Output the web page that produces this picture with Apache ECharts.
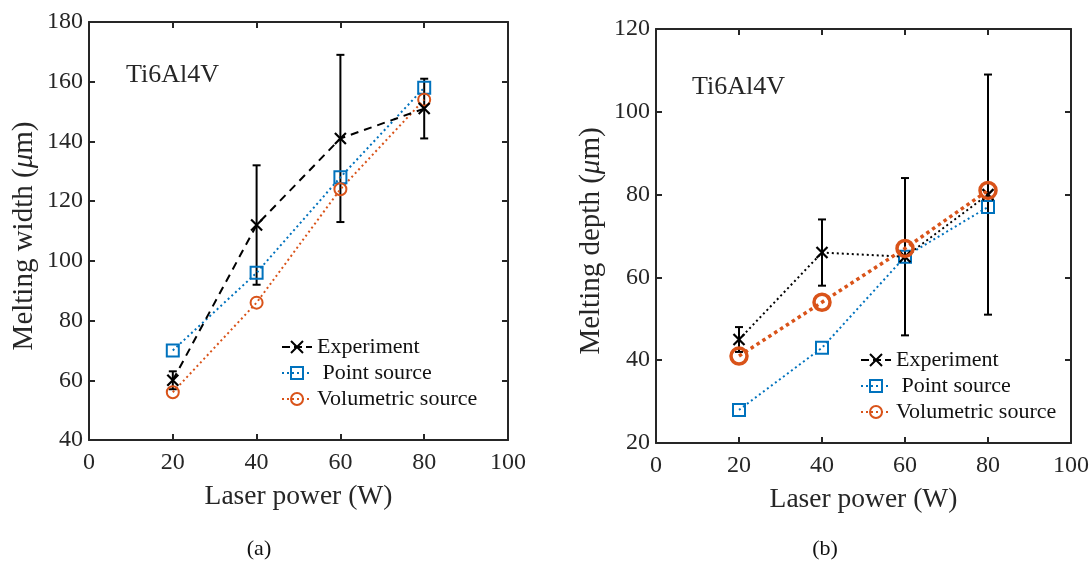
<!DOCTYPE html>
<html>
<head>
<meta charset="utf-8">
<script src="https://cdn.jsdelivr.net/npm/echarts@6/dist/echarts.min.js"></script>
<style>
  html, body { margin: 0; padding: 0; background: #fff; }
  #chart { width: 1092px; height: 563px; }
</style>
</head>
<body>
<div id="chart"></div>
<script>
// Laser power levels (W)
const powers = [20, 40, 60, 80];

// Melting width (µm)
const widthExp = [60, 112, 141, 151];
const widthExpErr = [3, 20, 28, 10];
const widthPoint = [70, 96, 128, 158];
const widthVol = [56, 86, 124, 154];

// Melting depth (µm)
const depthExp = [45, 66, 65, 80];
const depthExpErr = [3, 8, 19, 29];
const depthPoint = [28, 43, 65, 77];
const depthVol = [41, 54, 67, 81];

const xTicks = { min: 0, max: 100, interval: 20 };
const widthTicks = { min: 40, max: 180, interval: 20 };
const depthTicks = { min: 20, max: 120, interval: 20 };

const seriesNames = ['Experiment', ' Point source', 'Volumetric source'];

const FONT = '"Liberation Serif", "DejaVu Serif", serif';
const INK = '#262626';
const BLUE = '#0072BD';
const ORANGE = '#D95319';
const CROSS = 'path://M0,0L10,10M10,0L0,10';

const pairs = (xs, ys) => xs.map((x, i) => [x, ys[i]]);
const errTriples = (xs, ys, es) => xs.map((x, i) => [x, ys[i], es[i]]);

function axisCommon(t, show, margin) {
  return {
    type: 'value', min: t.min, max: t.max, interval: t.interval,
    axisLine: { show: true, onZero: false, lineStyle: { color: INK, width: 2 } },
    axisTick: { show: true, inside: true, length: 6, lineStyle: { color: INK, width: 2 } },
    axisLabel: { show: show, color: INK, fontFamily: FONT, fontSize: 24, margin: margin },
    splitLine: { show: false }
  };
}

function xAxes(grid, name) {
  return [
    Object.assign(axisCommon(xTicks, true, 11), {
      gridIndex: grid, position: 'bottom', name: name, nameLocation: 'middle', nameGap: 43,
      nameTextStyle: { color: INK, fontFamily: FONT, fontSize: 27.5 }
    }),
    Object.assign(axisCommon(xTicks, false, 6), { gridIndex: grid, position: 'top' })
  ];
}

function yAxes(grid, t, label) {
  return [
    Object.assign(axisCommon(t, true, 6), {
      gridIndex: grid, position: 'left', name: label + ' ({mu|μ}m)', nameLocation: 'middle', nameGap: 50,
      nameTextStyle: {
        color: INK, fontFamily: FONT, fontSize: 29, padding: [0, 10, 0, 0],
        rich: { mu: { fontStyle: 'italic', fontFamily: FONT, fontSize: 29, color: INK } }
      }
    }),
    Object.assign(axisCommon(t, false, 6), { gridIndex: grid, position: 'right' })
  ];
}

// Vertical error bars with short caps
function errorBars(xIdx, yIdx, data) {
  return {
    type: 'custom', xAxisIndex: xIdx, yAxisIndex: yIdx, z: 3, silent: true,
    data: data,
    renderItem: function (params, api) {
      const x = api.value(0), y = api.value(1), e = api.value(2);
      const lo = api.coord([x, y - e]);
      const hi = api.coord([x, y + e]);
      const cap = 4;
      const st = { stroke: '#000', lineWidth: 2 };
      return {
        type: 'group',
        children: [
          { type: 'line', shape: { x1: lo[0], y1: lo[1], x2: hi[0], y2: hi[1] }, style: st },
          { type: 'line', shape: { x1: lo[0] - cap, y1: lo[1], x2: lo[0] + cap, y2: lo[1] }, style: st },
          { type: 'line', shape: { x1: hi[0] - cap, y1: hi[1], x2: hi[0] + cap, y2: hi[1] }, style: st }
        ]
      };
    }
  };
}

function lineSeries(name, xIdx, yIdx, data, o) {
  return {
    type: 'line', name: name, xAxisIndex: xIdx, yAxisIndex: yIdx, z: o.z || 4,
    data: data, symbol: o.symbol, symbolSize: o.size, showSymbol: true,
    lineStyle: { color: o.color, width: o.width, type: o.dash },
    itemStyle: { color: o.fill, borderColor: o.color, borderWidth: o.bw },
    emphasis: { disabled: true }, animation: false
  };
}

function legendFor(grid, left, top, expDash) {
  return {
    id: 'legend' + grid,
    orient: 'vertical', left: left, top: top, itemWidth: 30, itemHeight: 15, itemGap: 4,
    textStyle: { color: '#111', fontFamily: FONT, fontSize: 22, lineHeight: 22 },
    selectedMode: false,
    data: [
      { name: seriesNames[0], lineStyle: { type: expDash, width: 2, color: '#000' } },
      { name: seriesNames[1] },
      { name: seriesNames[2] }
    ]
  };
}

const chart = echarts.init(document.getElementById('chart'), null, { renderer: 'canvas' });

const option = {
  animation: false,
  backgroundColor: '#fff',
  grid: [
    { left: 89, top: 22, width: 419, height: 418 },
    { left: 656, top: 29, width: 415, height: 414 }
  ],
  xAxis: xAxes(0, 'Laser power (W)').concat(xAxes(1, 'Laser power (W)')),
  yAxis: yAxes(0, widthTicks, 'Melting width').concat(yAxes(1, depthTicks, 'Melting depth')),
  title: [
    { text: 'Ti6Al4V', left: 121, top: 57, textStyle: { color: INK, fontFamily: FONT, fontSize: 26, fontWeight: 'normal' } },
    { text: 'Ti6Al4V', left: 687, top: 69, textStyle: { color: INK, fontFamily: FONT, fontSize: 26, fontWeight: 'normal' } }
  ],
  graphic: [
    { type: 'text', style: { x: 259, y: 549, align: 'center', verticalAlign: 'middle', text: '(a)', fill: '#111', font: '22px ' + FONT } },
    { type: 'text', style: { x: 825, y: 549, align: 'center', verticalAlign: 'middle', text: '(b)', fill: '#111', font: '22px ' + FONT } }
  ],
  legend: [
    legendFor(0, 276, 331, 'dashed'),
    legendFor(1, 855, 344, 'dashed')
  ],
  series: [
    // panel (a): melting width
    errorBars(0, 0, errTriples(powers, widthExp, widthExpErr)),
    lineSeries(seriesNames[0], 0, 0, pairs(powers, widthExp),
      { symbol: CROSS, size: 11, color: '#000', fill: '#000', width: 2, dash: [8, 6], bw: 2.2, z: 5 }),
    lineSeries(seriesNames[1], 0, 0, pairs(powers, widthPoint),
      { symbol: 'rect', size: 12, color: BLUE, fill: 'rgba(255,255,255,0)', width: 2, dash: [2, 3], bw: 2 }),
    lineSeries(seriesNames[2], 0, 0, pairs(powers, widthVol),
      { symbol: 'circle', size: 12, color: ORANGE, fill: 'rgba(255,255,255,0)', width: 2, dash: [2, 3], bw: 2 }),
    // panel (b): melting depth
    errorBars(2, 2, errTriples(powers, depthExp, depthExpErr)),
    lineSeries(seriesNames[0], 2, 2, pairs(powers, depthExp),
      { symbol: CROSS, size: 11, color: '#000', fill: '#000', width: 2, dash: [2, 3], bw: 2.2, z: 5 }),
    lineSeries(seriesNames[1], 2, 2, pairs(powers, depthPoint),
      { symbol: 'rect', size: 12, color: BLUE, fill: 'rgba(255,255,255,0)', width: 2, dash: [2, 3], bw: 2 }),
    lineSeries(seriesNames[2], 2, 2, pairs(powers, depthVol),
      { symbol: 'circle', size: 16, color: ORANGE, fill: 'rgba(255,255,255,0)', width: 3.5, dash: [3.5, 3.5], bw: 3.5, z: 6 })
  ]
};

chart.setOption(option);
</script>
</body>
</html>
